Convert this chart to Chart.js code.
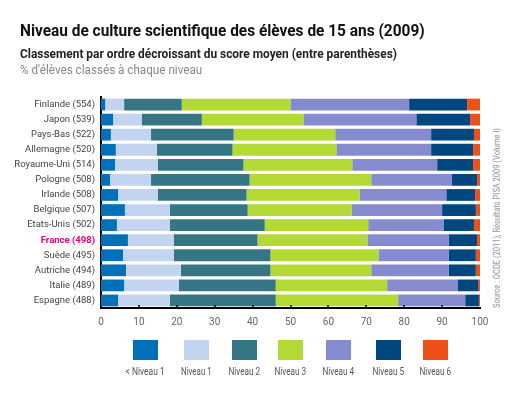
<!DOCTYPE html>
<html>
<head>
<meta charset="utf-8">
<script src="https://cdn.jsdelivr.net/npm/chart.js@4"></script>
<style>
  body { margin: 0; background: #fff; font-family: Roboto, 'Liberation Sans', sans-serif; }
  #wrap { position: relative; width: 532px; height: 395px; overflow: hidden; }
  #chart { position: absolute; left: 0; top: 0; }
  .fit { display: inline-block; white-space: nowrap; transform-origin: 0 50%; width: max-content; }
  .t1 { position: absolute; left: 20px; top: 21px; font-size: 16px; font-weight: bold; color: #111; }
  .t2 { position: absolute; left: 20px; top: 47px; font-size: 12px; font-weight: bold; color: #222; }
  .t3 { position: absolute; left: 20px; top: 63px; font-size: 12px; color: #888; }
  .src { position: absolute; left: 0; top: 0; font-size: 8.5px; color: #8a8a8a; }
  .lg { position: absolute; top: 340px; width: 60px; text-align: center; }
  .lg .sw { width: 25px; height: 20px; margin: 0 auto; }
  .lg .lb { font-size: 10px; color: #555; margin-top: 1px; transform-origin: 50% 50%; }
</style>
</head>
<body>
<div id="wrap">
  <canvas id="chart" width="532" height="395"></canvas>
  <div class="t1 fit" data-w="405">Niveau de culture scientifique des élèves de 15 ans (2009)</div>
  <div class="t2 fit" data-w="377">Classement par ordre décroissant du score moyen (entre parenthèses)</div>
  <div class="t3 fit" data-w="182">% d'élèves classés à chaque niveau</div>
  <div class="src fit" data-w="180" data-rot="1">Source : OCDE (2011), Résultats PISA 2009 (Volume I)</div>
  <div id="legend"></div>
</div>
<script>
const pays = ['Finlande (554)', 'Japon (539)', 'Pays-Bas (522)', 'Allemagne (520)', 'Royaume-Uni (514)',
  'Pologne (508)', 'Irlande (508)', 'Belgique (507)', 'Etats-Unis (502)', 'France (498)',
  'Suède (495)', 'Autriche (494)', 'Italie (489)', 'Espagne (488)']

const niveaux = ['< Niveau 1', 'Niveau 1', 'Niveau 2', 'Niveau 3', 'Niveau 4', 'Niveau 5', 'Niveau 6']
const couleurs = ['#0071B9', '#C3D4F0', '#367684', '#B3D935', '#868BCF', '#00467F', '#EE5118']

const sousNiveau1 = [1.1, 3.2, 2.6, 3.9, 3.7, 2.4, 4.5, 6.3, 4.2, 7.1, 5.8, 6.6, 6.1, 4.5]
const niveau1 = [5.0, 7.6, 10.6, 10.8, 11.3, 10.8, 10.5, 11.9, 14.0, 12.1, 13.4, 14.5, 14.4, 13.7]
const niveau2 = [15.2, 15.8, 21.8, 20.0, 22.6, 26.0, 23.4, 20.5, 25.0, 22.1, 25.5, 23.6, 25.6, 27.9]
const niveau3 = [28.7, 26.8, 26.8, 27.4, 28.7, 32.1, 29.8, 27.4, 27.3, 29.0, 28.5, 26.6, 29.4, 32.3]
const niveau4 = [31.3, 29.8, 25.3, 25.0, 22.4, 21.3, 22.9, 23.9, 20.0, 21.5, 18.6, 20.5, 18.7, 17.7]
const niveau5 = [15.3, 14.2, 11.3, 11.1, 9.5, 6.6, 7.6, 8.9, 7.9, 7.4, 7.1, 7.1, 5.3, 3.6]
const niveau6 = [3.4, 2.6, 1.6, 1.8, 1.8, 0.8, 1.3, 1.1, 1.6, 0.8, 1.1, 1.1, 0.5, 0.3]

const xTicks = [0, 10, 20, 30, 40, 50, 60, 70, 80, 90, 100]

const series = [sousNiveau1, niveau1, niveau2, niveau3, niveau4, niveau5, niveau6]

// legend built by hand, squares over the labels
const legendLeft = [133, 184, 232, 278, 326, 376, 423]
const legendW = [39, 31, 32, 32, 32, 32, 32]
const legend = document.getElementById('legend')
niveaux.forEach((n, i) => {
  const d = document.createElement('div')
  d.className = 'lg'
  d.style.left = (legendLeft[i] + 12.5 - 30) + 'px'
  d.innerHTML = '<div class="sw" style="background:' + couleurs[i] + '"></div>' +
    '<div class="lb fit" data-w="' + legendW[i] + '">' + n + '</div>'
  legend.appendChild(d)
})

// squeeze texts to the narrow look of the original font
document.querySelectorAll('.fit').forEach(el => {
  const w = el.offsetWidth
  const h = el.offsetHeight
  const target = Number(el.dataset.w)
  let k = target / w
  if (el.dataset.rot) {
    // vertical source line, centred on x=497, y=218
    el.style.left = (497 - w / 2) + 'px'
    el.style.top = (218 - h / 2) + 'px'
    el.style.transformOrigin = '50% 50%'
    el.style.transform = 'rotate(-90deg) scaleX(' + k + ')'
    const r = el.getBoundingClientRect()
    k = k * target / r.height
    el.style.transform = 'rotate(-90deg) scaleX(' + k + ')'
  } else {
    el.style.transform = 'scaleX(' + k + ')'
  }
})

// small tick marks pointing into the plot
const innerTicks = {
  id: 'innerTicks',
  afterDraw(chart) {
    const ctx = chart.ctx
    const x = chart.scales.x
    const area = chart.chartArea
    ctx.save()
    ctx.strokeStyle = '#000'
    ctx.lineWidth = 1.5
    xTicks.forEach(v => {
      if (v === 0 || v === 100) return
      const px = Math.round(x.getPixelForValue(v))
      ctx.beginPath()
      ctx.moveTo(px, area.bottom)
      ctx.lineTo(px, area.bottom - 3)
      ctx.stroke()
    })
    ctx.restore()
  }
}

const fontFam = "Roboto, 'Liberation Sans', sans-serif"

new Chart(document.getElementById('chart'), {
  type: 'bar',
  data: {
    labels: pays,
    datasets: series.map((s, i) => ({
      label: niveaux[i],
      data: s,
      backgroundColor: couleurs[i],
      borderWidth: 0,
      barPercentage: 0.78,
      categoryPercentage: 1
    }))
  },
  options: {
    indexAxis: 'y',
    responsive: false,
    animation: false,
    layout: { padding: { top: 97, right: 52, bottom: 0, left: 0 } },
    plugins: {
      legend: { display: false },
      tooltip: { enabled: false }
    },
    scales: {
      x: {
        stacked: true,
        min: 0,
        max: 100,
        afterBuildTicks: s => { s.ticks = xTicks.map(v => ({ value: v })) },
        afterFit: s => { s.height = 87 },
        grid: { display: false, drawTicks: false },
        border: { display: true, color: '#000', width: 2 },
        ticks: { color: '#666', padding: 8, font: { family: fontFam, size: 10 } }
      },
      y: {
        stacked: true,
        afterFit: s => { s.width = 101 },
        grid: { display: false, drawTicks: false },
        border: { display: true, color: '#000', width: 2 },
        ticks: {
          padding: 6,
          color: c => pays[c.index] && pays[c.index].startsWith('France') ? '#E5007E' : '#444',
          font: c => ({
            family: fontFam,
            size: 9.5,
            weight: pays[c.index] && pays[c.index].startsWith('France') ? 'bold' : 'normal'
          })
        }
      }
    }
  },
  plugins: [innerTicks]
})
</script>
</body>
</html>
